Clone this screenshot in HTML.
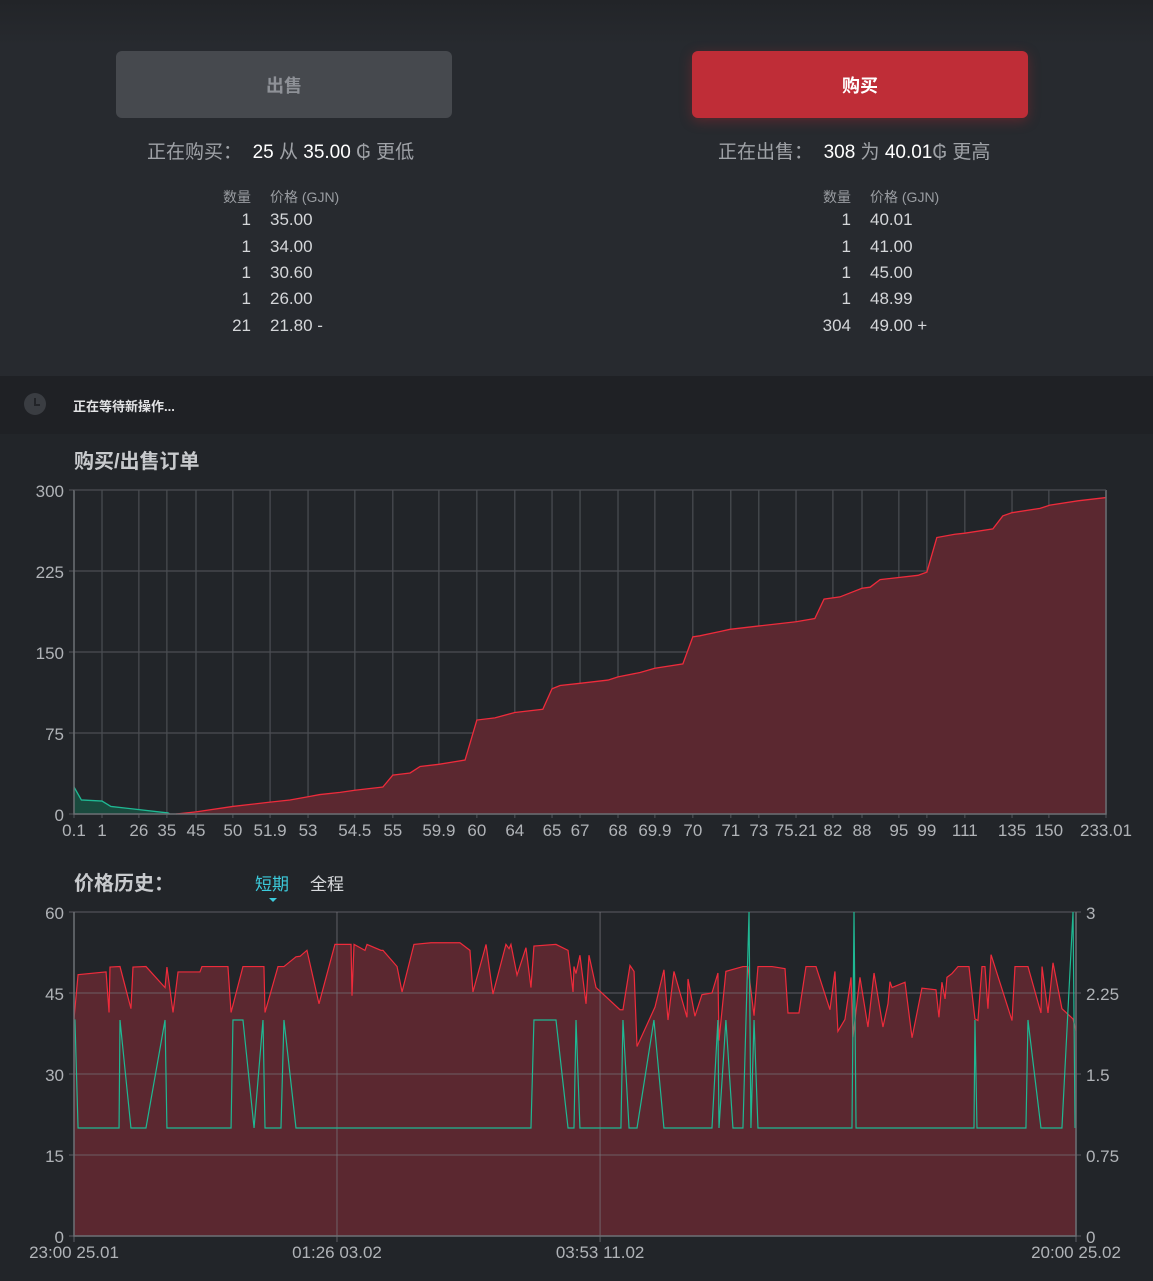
<!DOCTYPE html>
<html><head><meta charset="utf-8">
<style>
*{margin:0;padding:0;box-sizing:border-box}
body{width:1153px;height:1281px;background:#222529;font-family:"Liberation Sans","Noto Sans CJK SC",sans-serif;position:relative;overflow:hidden;color:#a4a7ac}
#top{position:absolute;left:0;top:0;width:1153px;height:376px;background:linear-gradient(#222428 0,#272a2f 45px,#272a2f 100%)}
.btn{position:absolute;top:51px;width:336px;height:67px;border-radius:6px;font-weight:bold;font-size:18px;display:flex;align-items:center;justify-content:center}
#sell{left:116px;background:#46494e;color:#8e9197}
#buy{left:692px;background:#bf2d37;color:#fff;box-shadow:0 3px 12px rgba(190,40,50,.35)}
.sum{position:absolute;top:137px;font-size:19px;color:#9fa2a7;white-space:nowrap}
.sum b{font-weight:normal;color:#fff}
.tbl{position:absolute;top:187px;font-size:17px;color:#d4d6d9}
.tbl .h{font-size:14px;color:#999ca1}
.row{position:absolute;white-space:nowrap}
.q{position:absolute;text-align:right;width:60px}
.p{position:absolute}
#status{position:absolute;left:0;top:376px;width:1153px;height:58px;background:#1f2125}
#clock{position:absolute;left:24px;top:17px;width:22px;height:22px;border-radius:50%;background:#3a3d42}
#stxt{position:absolute;left:73px;top:20px;font-size:13px;font-weight:bold;color:#e2e3e5}
.title{position:absolute;font-size:20px;font-weight:bold;color:#c8cacd}
.tab{position:absolute;top:870px;font-size:17px}
svg text{font-family:"Liberation Sans",sans-serif;font-size:17px;fill:#b0b3b7}
</style></head><body>
<div id="top">
<div id="sell" class="btn">出售</div>
<div id="buy" class="btn">购买</div>
<div class="sum" style="left:147px">正在购买：&nbsp; <b>25</b> 从 <b>35.00</b> ₲ 更低</div>
<div class="sum" style="left:718px">正在出售：&nbsp; <b>308</b> 为 <b>40.01</b>₲ 更高</div>
<div class="tbl" style="left:0">
 <div class="row h" style="top:0"><span class="q" style="left:191px">数量</span><span class="p" style="left:270px">价格 (GJN)</span></div>
 <div class="row" style="top:23px"><span class="q" style="left:191px">1</span><span class="p" style="left:270px">35.00</span></div>
 <div class="row" style="top:50px"><span class="q" style="left:191px">1</span><span class="p" style="left:270px">34.00</span></div>
 <div class="row" style="top:76px"><span class="q" style="left:191px">1</span><span class="p" style="left:270px">30.60</span></div>
 <div class="row" style="top:102px"><span class="q" style="left:191px">1</span><span class="p" style="left:270px">26.00</span></div>
 <div class="row" style="top:129px"><span class="q" style="left:191px">21</span><span class="p" style="left:270px">21.80 -</span></div>
</div>
<div class="tbl" style="left:0">
 <div class="row h" style="top:0"><span class="q" style="left:791px">数量</span><span class="p" style="left:870px">价格 (GJN)</span></div>
 <div class="row" style="top:23px"><span class="q" style="left:791px">1</span><span class="p" style="left:870px">40.01</span></div>
 <div class="row" style="top:50px"><span class="q" style="left:791px">1</span><span class="p" style="left:870px">41.00</span></div>
 <div class="row" style="top:76px"><span class="q" style="left:791px">1</span><span class="p" style="left:870px">45.00</span></div>
 <div class="row" style="top:102px"><span class="q" style="left:791px">1</span><span class="p" style="left:870px">48.99</span></div>
 <div class="row" style="top:129px"><span class="q" style="left:791px">304</span><span class="p" style="left:870px">49.00 +</span></div>
</div>
</div>
<div id="status"><div id="clock"><div style="position:absolute;left:10px;top:5px;width:2px;height:7px;background:#222428"></div><div style="position:absolute;left:10px;top:11px;width:6px;height:2px;background:#222428"></div></div><div id="stxt">正在等待新操作...</div></div>
<div class="title" style="left:74px;top:445px">购买/出售订单</div>
<div class="title" style="left:74px;top:867px">价格历史：</div>
<div class="tab" style="left:255px;color:#3ccbdc">短期</div>
<div style="position:absolute;left:269px;top:898px;width:0;height:0;border-left:4px solid transparent;border-right:4px solid transparent;border-top:4px solid #3ccbdc"></div>
<div class="tab" style="left:310px;color:#d8dadd">全程</div>
<svg id="depth" width="1153" height="1281" style="position:absolute;left:0;top:0"></svg>
<svg id="hist" width="1153" height="1281" style="position:absolute;left:0;top:0"></svg>
<script>
// depth chart data (x in order-index units, y = cumulative quantity)
const depthTickIdx=[0,0.76,1.76,2.52,3.31,4.31,5.32,6.35,7.62,8.65,9.9,10.93,11.96,12.97,13.73,14.76,15.76,16.79,17.82,18.58,19.59,20.59,21.38,22.38,23.14,24.17,25.45,26.45,28];
const depthTickLabels=["0.1","1","26","35","45","50","51.9","53","54.5","55","59.9","60","64","65","67","68","69.9","70","71","73","75.21","82","88","95","99","111","135","150","233.01"];
const depthYTicks=[0,75,150,225,300];
const bidX=[0,0.2,0.76,1.0,2.55,2.6];
const bidQty=[25,13,12,7,1,0];
const askX=[2.77,3.31,4.31,5.32,5.86,6.35,6.67,7.22,7.62,8.38,8.65,9.12,9.39,9.9,10.61,10.93,11.42,11.96,12.72,12.97,13.19,13.73,14.49,14.76,15.36,15.76,16.52,16.79,16.98,17.53,17.8,18.56,19.59,20.1,20.35,20.78,21.38,21.6,21.87,22.9,23.14,23.41,23.9,24.17,24.93,25.2,25.45,26.21,26.48,27.24,28];
const askQty=[0,2,7,11,13,16,18,20,22,25,36,38,44,46,50,87,89,94,97,116,119,121,124,127,131,135,139,164,165,169,171,174,178,181,199,201,209,210,217,221,224,256,259,260,264,276,279,283,286,290,293];
// price history (t = hours since 23:00 25.01)
const histTickT=[0,194.4,388.9,740.7];
const histTickLabels=["23:00 25.01","01:26 03.02","03:53 11.02","20:00 25.02"];
const histLeftTicks=[0,15,30,45,60];
const histRightTicks=["0","0.75","1.5","2.25","3"];
const priceT=[0,3,23.7,25.9,26.6,34,42.1,43.6,53.2,67.3,68.7,73.2,76.9,93.1,94.6,113.8,116.1,124.9,140.4,141.2,150.8,155.2,164.1,167.1,172.2,181.1,192.9,204.8,205.5,207,215.1,216.6,226.9,228.4,238.8,242.5,251.3,263.9,285.3,292.7,294.9,304.6,309.7,319.3,321.6,323,327.5,334.1,337.8,340,356.3,365.2,368.9,369.6,371.1,374,378.5,380.7,385.9,403.6,405.8,411,414,416.2,429.5,436.1,439.1,443.5,453.1,453.9,459,464.2,471.6,476,476.8,481.9,494.5,498.2,502.7,505.6,516,525.6,527.8,535.9,541.1,548.5,558.8,562.5,564.7,569.9,574.4,575.8,581,586.9,591.4,598,601.7,603.2,604.7,614.3,619.5,626.8,637.2,639.4,641.6,643.9,645.3,649,653.5,661.6,666,668.2,671.2,673.4,675.6,677.9,693.4,695.6,705.2,714.8,715.6,720,723.7,730.3,738.5,740.7];
const priceVal=[40.2,48.4,48.9,41.4,49.8,49.9,42.1,49.8,49.9,46,49.8,41.4,48.9,48.9,49.9,49.9,41.4,49.9,49.9,41.4,49.9,49.9,51.7,51.8,52.9,43,54,54,44.5,54,52.9,54,52.9,52.9,49.9,45.2,54,54.3,54.3,52.9,45.2,54,44.8,54,53.2,54,48.3,53.4,46,53.7,54,52.9,45.2,49.9,48.6,52,43,52,46,41.9,41.9,50.1,49,35.1,42.4,49.3,40,49,40.5,47.6,40.7,44.7,45,48.7,36.2,49,49.9,49.9,40.8,49.9,49.9,49.5,41.3,41.3,49.9,49.9,41.9,49,37.9,40.1,47.9,36.8,47.9,38.7,48.7,38.7,43,47.1,46,47,36.7,45.9,45.6,40.5,47,43.9,47.9,48.6,49.9,49.9,40.2,39.9,49.9,49.9,42.1,52.1,39.9,49.9,49.9,41.3,49.9,41.3,50.6,42.1,40.2,38];
const volT=[0,0.7,3,33.3,34,42.1,53.2,67.3,68.7,116.1,117.5,124.9,133.1,139.7,141.2,153,155.2,164.1,337.8,340,356.3,365.2,369.6,371.1,374,404.3,405.8,410.3,416.2,428.7,436.1,471.6,476,476.8,481.9,487.1,494.5,499,500.4,502.7,505.6,575.1,576.6,578.1,665.3,666,667.5,703.7,705.2,714.8,730.3,738.5,740];
const volVal=[2,2,1,1,2,1,1,2,1,1,2,2,1,2,1,1,2,1,1,2,2,1,1,2,1,1,2,1,1,2,1,1,2,1,2,1,1,3,1,2,1,1,3,1,1,2,1,1,2,1,1,3,1];

const NS='http://www.w3.org/2000/svg';
function mk(svg,tag,a){const e=document.createElementNS(NS,tag);for(const k in a)e.setAttribute(k,a[k]);svg.appendChild(e);return e;}
// depth
(function(){
 const s=document.getElementById('depth');
 const L=74,R=1106,T=490,B=814;
 const xs=v=>L+v/28*(R-L), ys=v=>B-v/300*(B-T);
 depthYTicks.forEach(v=>{const g=mk(s,'line',{x1:L-5,x2:R,y1:ys(v),y2:ys(v),stroke:'#4b4e53','stroke-width':1.3});
  
  const t=mk(s,'text',{x:L-10,y:ys(v)+7,'text-anchor':'end'});t.textContent=v;
  });
 depthTickIdx.forEach((v,i)=>{const g=mk(s,'line',{x1:xs(v),x2:xs(v),y1:T,y2:B+4,stroke:'#4b4e53','stroke-width':1.2});
  
  const t=mk(s,'text',{x:xs(v),y:B+22,'text-anchor':'middle'});t.textContent=depthTickLabels[i];
  });
 function area(X,Y,fill,stroke,name){
  let d='M'+xs(X[0])+','+B;X.forEach((x,i)=>d+=' L'+xs(x)+','+ys(Y[i]));d+=' L'+xs(X[X.length-1])+','+B+' Z';
  const a=mk(s,'path',{d:d,fill:fill});
  let l='';X.forEach((x,i)=>l+=(i?' L':'M')+xs(x)+','+ys(Y[i]));
  const p=mk(s,'path',{d:l,fill:'none',stroke:stroke,'stroke-width':1.3});}
 area(bidX,bidQty,'#1a4a3e','#1fb893','bid-depth');
 area(askX,askQty,'#5b2830','#ee2b3b','ask-depth');
 const ax=mk(s,'path',{d:`M${L},${T} L${L},${B} L${R},${B} L${R},${T}`,fill:'none',stroke:'#6b6e73','stroke-width':1.5});
 
 const tl=mk(s,'line',{x1:L,x2:R,y1:T,y2:T,stroke:'#4b4e53'});
})();
// history
(function(){
 const s=document.getElementById('hist');
 const L=74,R=1076,T=912,B=1236,TMAX=740.7;
 const xs=v=>L+v/TMAX*(R-L), ys=v=>B-v/60*(B-T), ys2=v=>B-v/3*(B-T);
 let d='M'+xs(priceT[0])+','+B;priceT.forEach((t,i)=>d+=' L'+xs(t)+','+ys(priceVal[i]));d+=' L'+xs(priceT[priceT.length-1])+','+B+' Z';
 const a=mk(s,'path',{d:d,fill:'#5b2830'});
 histLeftTicks.forEach((v,i)=>{const g=mk(s,'line',{x1:L-5,x2:R+5,y1:ys(v),y2:ys(v),stroke:'rgba(120,120,126,0.55)','stroke-width':1.3});
  
  const t=mk(s,'text',{x:L-10,y:ys(v)+7,'text-anchor':'end'});t.textContent=v;
  
  const t2=mk(s,'text',{x:R+10,y:ys(v)+7,'text-anchor':'start'});t2.textContent=histRightTicks[i];
  });
 histTickT.forEach((v,i)=>{const g=mk(s,'line',{x1:xs(v),x2:xs(v),y1:T,y2:B+6,stroke:'rgba(120,120,126,0.6)','stroke-width':1.2});
  
  const t=mk(s,'text',{x:xs(v),y:B+22,'text-anchor':'middle'});t.textContent=histTickLabels[i];
  });
 let l='';priceT.forEach((t,i)=>l+=(i?' L':'M')+xs(t)+','+ys(priceVal[i]));
 const p=mk(s,'path',{d:l,fill:'none',stroke:'#ee2b3b','stroke-width':1.2});
 let v='';volT.forEach((t,i)=>v+=(i?' L':'M')+xs(t)+','+ys2(volVal[i]));
 const q=mk(s,'path',{d:v,fill:'none',stroke:'#1fb893','stroke-width':1.2});
 const ax=mk(s,'path',{d:`M${L},${T} L${L},${B} L${R},${B} L${R},${T}`,fill:'none',stroke:'#6b6e73','stroke-width':1.5});
 
})();
</script>
</body></html>
